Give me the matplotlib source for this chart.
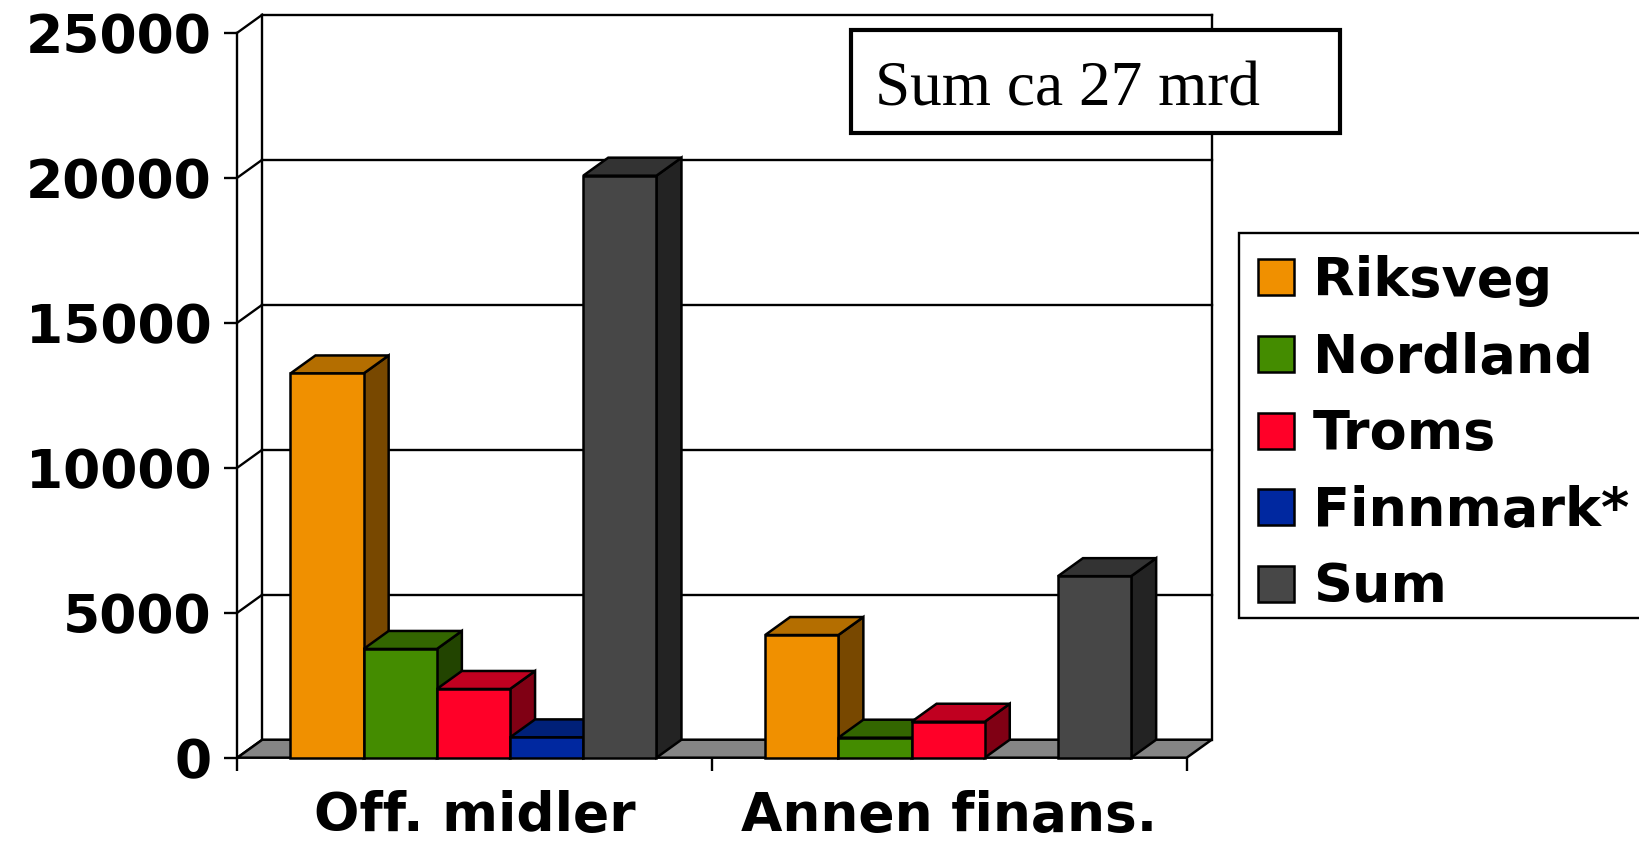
import matplotlib
matplotlib.use('Agg')
import matplotlib.pyplot as plt
from matplotlib.patches import Polygon, Rectangle

plt.rcParams['font.family'] = ['DejaVu Sans']

# data
kategorier = ['Off. midler', 'Annen finans.']
serier = ['Riksveg', 'Nordland', 'Troms', 'Finnmark*', 'Sum']
riksveg = [13250, 4230]
nordland = [3750, 690]
troms = [2370, 1240]
finnmark = [700, 0]
sum_verdi = [20070, 6260]
y_ticks = [0, 5000, 10000, 15000, 20000, 25000]
boks_tekst = 'Sum ca 27 mrd'

verdier = [riksveg, nordland, troms, finnmark, sum_verdi]

# (front, top, side)
farger = [
    ('#F09000', '#B46E00', '#784800'),
    ('#448C00', '#336600', '#224400'),
    ('#FF0028', '#C00020', '#800014'),
    ('#0028A0', '#002078', '#001450'),
    ('#474747', '#333333', '#232323'),
]

W, H = 1639, 843
fig = plt.figure(figsize=(W / 100, H / 100), dpi=100)
ax_l, ax_b, ax_w, ax_h = 237.3 / W, 1 - 757.7 / H, 949.4 / W, 725 / H
ax = fig.add_axes([ax_l, ax_b, ax_w, ax_h])
ax.set_xlim(0, 2)
ax.set_ylim(0, 25000)
ax.set_facecolor('none')

# depth of the 3d look, px -> data units
DX = 25 / (ax_w * W) * 2
DY = 18 / (ax_h * H) * 25000
lw = 1.7
blw = 1.8

# walls and grid
for v in y_ticks:
    ax.plot([0, DX], [v, v + DY], color='k', lw=lw, clip_on=False, zorder=1)
    if v > 0:
        ax.plot([DX, 2 + DX], [v + DY, v + DY], color='k', lw=lw, clip_on=False, zorder=1)
ax.plot([DX, DX], [DY, 25000 + DY], color='k', lw=lw, clip_on=False, zorder=1)
ax.plot([2 + DX, 2 + DX], [DY, 25000 + DY], color='k', lw=lw, clip_on=False, zorder=1)

# floor
gulv = Polygon([(0, 0), (2, 0), (2 + DX, DY), (DX, DY)], closed=True,
               facecolor='#858585', edgecolor='k', lw=blw, clip_on=False, zorder=2)
ax.add_patch(gulv)

# bars
bw = 0.1542
start = 0.112
z = 3
for gi in range(len(kategorier)):
    for si, serie in enumerate(verdier):
        v = serie[gi]
        if v <= 0:
            continue
        x0 = gi + start + si * bw
        x1 = x0 + bw
        front, topp, side = farger[si]
        ax.add_patch(Polygon([(x1, 0), (x1 + DX, DY), (x1 + DX, v + DY), (x1, v)],
                             closed=True, facecolor=side, edgecolor='k', lw=blw,
                             joinstyle='miter', clip_on=False, zorder=z))
        ax.add_patch(Polygon([(x0, v), (x1, v), (x1 + DX, v + DY), (x0 + DX, v + DY)],
                             closed=True, facecolor=topp, edgecolor='k', lw=blw,
                             joinstyle='miter', clip_on=False, zorder=z + 1))
        ax.bar(x0, v, width=bw, align='edge', color=front, edgecolor='k',
               linewidth=blw, zorder=z + 2, clip_on=False)
        z += 3

# axes
for s in ['top', 'right', 'bottom']:
    ax.spines[s].set_visible(False)
ax.spines['left'].set_linewidth(lw)
ax.spines['left'].set_zorder(1)
ax.set_yticks(y_ticks)
ax.set_yticklabels([str(t) for t in y_ticks], fontsize=38.5, fontweight='bold')
ax.tick_params(axis='y', length=9.5, width=lw, pad=9)
ax.set_xticks([0, 1, 2])
ax.set_xticklabels([])
ax.tick_params(axis='x', which='major', length=9, width=lw)
ax.set_xticks([0.5, 1.5], minor=True)
ax.set_xticklabels(kategorier, minor=True, fontsize=38.5, fontweight='bold')
ax.tick_params(axis='x', which='minor', length=0, pad=23)


def fx(x):
    return x / W


def fy(y):
    return 1 - y / H


# legend (drawn by hand, frame runs past the right edge)
fig.add_artist(Rectangle((fx(1239.3), fy(617.7)), fx(1700 - 1239.3), (617.7 - 233.3) / H,
                         transform=fig.transFigure, facecolor='white', edgecolor='k',
                         lw=lw, zorder=5))
for i, navn in enumerate(serier):
    topp_y = 259.3 + i * 76.7
    fig.add_artist(Rectangle((fx(1258), fy(topp_y + 36)), 36 / W, 36 / H,
                             transform=fig.transFigure, facecolor=farger[i][0],
                             edgecolor='k', lw=blw, zorder=6))
    fig.text(fx(1312.7), fy(296 + i * 76.7), navn, fontsize=39, fontweight='bold',
             va='baseline', ha='left', zorder=7)

# text box
fig.add_artist(Rectangle((fx(851.3), fy(133)), (1339.7 - 851.3) / W, (133 - 30.3) / H,
                         transform=fig.transFigure, facecolor='white', edgecolor='k',
                         lw=3.0, zorder=5))
fig.text(fx(875), fy(105), boks_tekst, fontsize=45.5, family='Liberation Serif',
         va='baseline', ha='left', zorder=7)

fig.savefig('out.png', dpi=100)
